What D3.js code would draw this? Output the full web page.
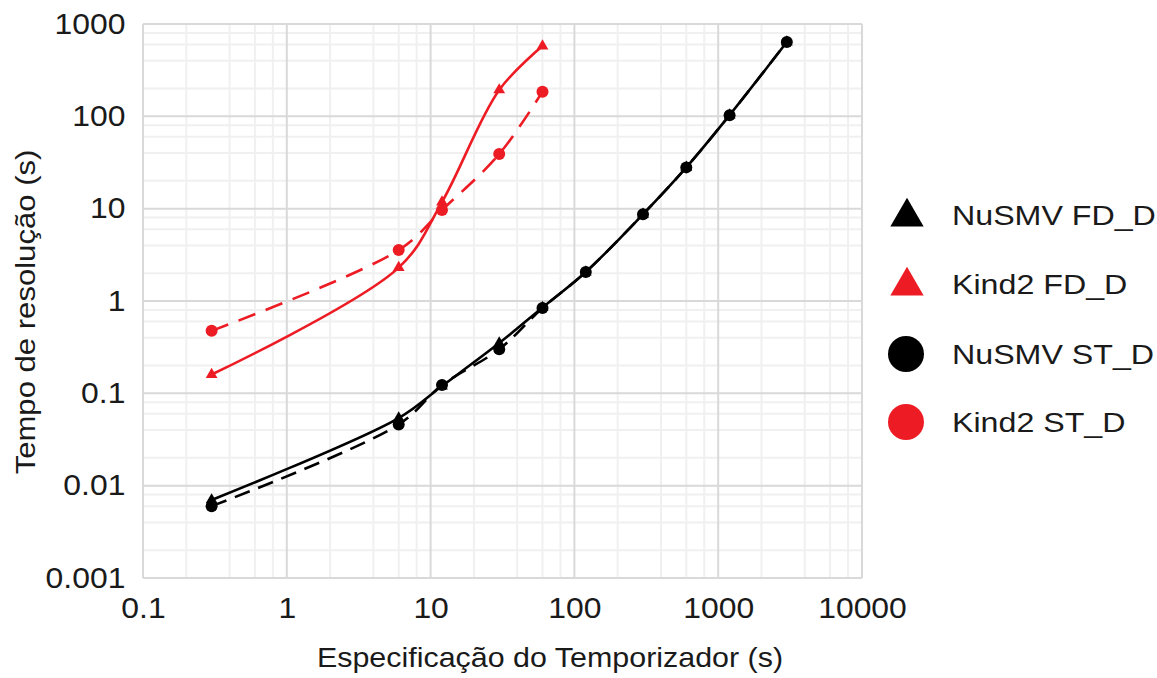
<!DOCTYPE html>
<html>
<head>
<meta charset="utf-8">
<script src="https://cdn.jsdelivr.net/npm/d3@7"></script>
<style>
  html,body{margin:0;padding:0;background:#fff;}
  svg text{font-family:"Liberation Sans",Arial,sans-serif;fill:#1a1a1a;}
</style>
</head>
<body>
<svg id="chart" width="1157" height="678"></svg>
<script>
// timer spec (s) and solve time (s)
const specTimes = [0.3, 6, 12, 30, 60, 120, 300, 600, 1200, 3000];
const kindTimes = [0.3, 6, 12, 30, 60];
const nusmvFD = [0.007, 0.054, 0.12, 0.35, 0.85, 2.06, 8.7, 28, 103, 638];
const nusmvST = [0.006, 0.046, 0.123, 0.30, 0.84, 2.06, 8.7, 28, 103, 638];
const kind2FD = [0.16, 2.3, 11.8, 193, 578];
const kind2ST = [0.475, 3.56, 9.66, 39, 185];
const xTicks = [0.1, 1, 10, 100, 1000, 10000];
const yTicks = [0.001, 0.01, 0.1, 1, 10, 100, 1000];
const minorMult = [2, 4, 6, 8];

const RED = '#ed1c24';
const series = [
  {name:'NuSMV FD_D', xs:specTimes, ys:nusmvFD, color:'#000', shape:'tri', dash:null},
  {name:'Kind2 FD_D', xs:kindTimes, ys:kind2FD, color:RED, shape:'tri', dash:null},
  {name:'NuSMV ST_D', xs:specTimes, ys:nusmvST, color:'#000', shape:'circ', dash:'16,9'},
  {name:'Kind2 ST_D', xs:kindTimes, ys:kind2ST, color:RED, shape:'circ', dash:'18,11'}
];

const svg = d3.select('#chart');
const m = {left:143, top:24, w:719, h:554};
const x = d3.scaleLog().domain([0.1, 10000]).range([m.left, m.left + m.w]);
const y = d3.scaleLog().domain([0.001, 1000]).range([m.top + m.h, m.top]);

const g = svg.append('g');

// minor grid
const minorX = [], minorY = [];
xTicks.slice(0,-1).forEach(t=>minorMult.forEach(k=>minorX.push(t*k)));
yTicks.slice(0,-1).forEach(t=>minorMult.forEach(k=>minorY.push(t*k)));
g.selectAll('.mx').data(minorX).enter().append('line')
  .attr('x1',d=>x(d)).attr('x2',d=>x(d)).attr('y1',m.top).attr('y2',m.top+m.h)
  .attr('stroke','#f0f0f0').attr('stroke-width',2);
g.selectAll('.my').data(minorY).enter().append('line')
  .attr('y1',d=>y(d)).attr('y2',d=>y(d)).attr('x1',m.left).attr('x2',m.left+m.w)
  .attr('stroke','#f0f0f0').attr('stroke-width',2);

// major grid
g.selectAll('.gx').data(xTicks).enter().append('line')
  .attr('x1',d=>x(d)).attr('x2',d=>x(d)).attr('y1',m.top).attr('y2',m.top+m.h)
  .attr('stroke','#d9d9d9').attr('stroke-width',2);
g.selectAll('.gy').data(yTicks).enter().append('line')
  .attr('y1',d=>y(d)).attr('y2',d=>y(d)).attr('x1',m.left).attr('x2',m.left+m.w)
  .attr('stroke','#d9d9d9').attr('stroke-width',2);

// tick labels via d3 axes (no domain/tick lines); text a bit stretched like the source
const xAxis = d3.axisBottom(x).tickValues(xTicks).tickFormat(d=>String(d)).tickSize(0).tickPadding(19);
const yAxis = d3.axisLeft(y).tickValues(yTicks).tickFormat(d=>String(d)).tickSize(0).tickPadding(16);
const gx = svg.append('g').attr('transform','translate(0,'+(m.top+m.h)+')').call(xAxis);
const gy = svg.append('g').attr('transform','translate('+m.left+',0)').call(yAxis);
[gx, gy].forEach(a=>{
  a.select('.domain').remove();
  a.selectAll('text').attr('font-size',29).attr('fill','#1a1a1a')
    .attr('transform','scale(1.1,1)')
    .style('font-family','"Liberation Sans",Arial,sans-serif');
});

// lines
const line = d3.line().curve(d3.curveCatmullRom.alpha(0.5)).x(d=>x(d[0])).y(d=>y(d[1]));
series.forEach(s=>{
  const pts = s.xs.map((v,i)=>[v, s.ys[i]]);
  g.append('path').datum(pts).attr('d',line)
    .attr('fill','none').attr('stroke',s.color).attr('stroke-width',2.6)
    .attr('stroke-dasharray',s.dash);
});

// markers
const tri = d3.symbol().type(d3.symbolTriangle);
series.forEach(s=>{
  const pts = s.xs.map((v,i)=>[v, s.ys[i]]);
  if(s.shape==='circ'){
    g.selectAll(null).data(pts).enter().append('circle')
      .attr('cx',d=>x(d[0])).attr('cy',d=>y(d[1])).attr('r',6).attr('fill',s.color);
  } else {
    g.selectAll(null).data(pts).enter().append('path')
      .attr('d',tri.size(60)()).attr('fill',s.color)
      .attr('transform',d=>'translate('+x(d[0])+','+y(d[1])+')');
  }
});

// axis titles
svg.append('text').attr('transform','translate(550,667) scale(1.087,1)').attr('text-anchor','middle')
  .attr('font-size',28).text('Especificação do Temporizador (s)');
svg.append('text').attr('transform','translate(35,312) rotate(-90) scale(1.11,1)')
  .attr('text-anchor','middle').attr('font-size',28)
  .text('Tempo de resolução (s)');

// legend
const lg = svg.append('g');
const rowY = [215, 284, 354, 422];
series.forEach((s,i)=>{
  if(s.shape==='circ'){
    lg.append('circle').attr('cx',906).attr('cy',rowY[i]).attr('r',18).attr('fill',s.color);
  } else {
    lg.append('path').attr('d',d3.symbol().type(d3.symbolTriangle).size(480)())
      .attr('fill',s.color).attr('transform','translate(907,'+(rowY[i]+2)+')');
  }
  lg.append('text').attr('transform','translate(952,'+(rowY[i]+10)+') scale(1.15,1)')
    .attr('font-size',28).text(s.name);
});
</script>
</body>
</html>
